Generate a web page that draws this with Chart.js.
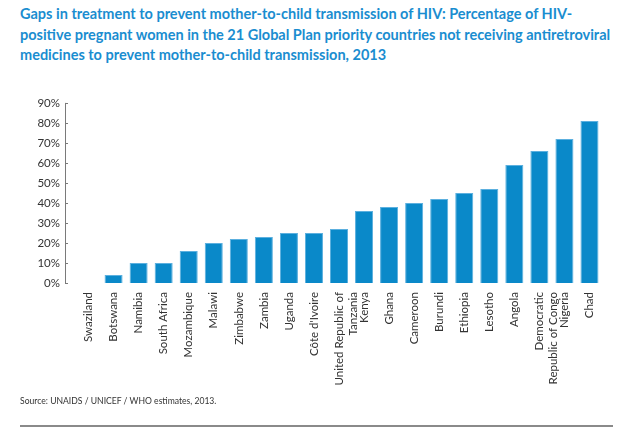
<!DOCTYPE html>
<html lang="en">
<head>
<meta charset="UTF-8">
<title>Gaps in treatment to prevent mother-to-child transmission of HIV</title>
<script src="https://cdn.jsdelivr.net/npm/chart.js"></script>
<style>
    body {
        margin: 0;
        width: 640px;
        height: 439px;
        background: #fff;
        position: relative;
        overflow: hidden;
        font-family: Lato, "Open Sans", sans-serif;
    }

    #title {
        position: absolute;
        left: 20px;
        top: 4px;
        color: #1a8dd0;
        font-weight: bold;
        font-size: 14.5px;
        line-height: 20.5px;
        white-space: nowrap;
    }

    #chart {
        position: absolute;
        left: 0;
        top: 80px;
    }

    #source {
        position: absolute;
        left: 20px;
        top: 396px;
        font-size: 8.6px;
        color: #333;
    }

    #rule {
        position: absolute;
        left: 20px;
        top: 425px;
        width: 593px;
        height: 2px;
        background: #8a8a8a;
    }
</style>
</head>
<body>
<div id="title">Gaps in treatment to prevent mother-to-child transmission of HIV: Percentage of HIV-<br>positive pregnant women in the 21 Global Plan priority countries not receiving antiretroviral<br>medicines to prevent mother-to-child transmission, 2013</div>
<canvas id="chart" width="640" height="320"></canvas>
<div id="source">Source: UNAIDS / UNICEF / WHO estimates, 2013.</div>
<div id="rule"></div>

<script>
    const countries = [
        "Swaziland", "Botswana", "Namibia", "South Africa", "Mozambique", "Malawi",
        "Zimbabwe", "Zambia", "Uganda", "Côte d'Ivoire", ["United Republic of", "Tanzania"],
        "Kenya", "Ghana", "Cameroon", "Burundi", "Ethiopia", "Lesotho", "Angola",
        ["Democratic", "Republic of Congo"], "Nigeria", "Chad"
    ];
    const notReceiving = [0, 4, 10, 10, 16, 20, 22, 23, 25, 25, 27, 36, 38, 40, 42, 45, 47, 59, 66, 72, 81];
    const yTicks = [0, 10, 20, 30, 40, 50, 60, 70, 80, 90];

    const tickFont = { family: "Lato, 'Open Sans', sans-serif", size: 11.5 };

    // y axis line sits a little left of the first bar, like the original
    const axisLine = {
        id: "axisLine",
        afterDraw(chart) {
            const ctx = chart.ctx;
            const y = chart.scales.y;
            const x = chart.chartArea.left - 11;
            ctx.save();
            ctx.strokeStyle = "#7a7a7a";
            ctx.lineWidth = 1;
            ctx.beginPath();
            ctx.moveTo(x + 0.5, y.getPixelForValue(90));
            ctx.lineTo(x + 0.5, y.getPixelForValue(0));
            yTicks.forEach(t => {
                const py = Math.round(y.getPixelForValue(t)) + 0.5;
                ctx.moveTo(x, py);
                ctx.lineTo(x + 3, py);
            });
            ctx.stroke();
            ctx.restore();
        }
    };

    new Chart(document.getElementById("chart"), {
        type: "bar",
        data: {
            labels: countries,
            datasets: [{
                data: notReceiving,
                backgroundColor: "#0a89c9",
                borderColor: "#5cb0df",
                borderWidth: 1,
                categoryPercentage: 1,
                barPercentage: 0.72
            }]
        },
        options: {
            responsive: false,
            animation: false,
            layout: { padding: { top: 17, right: 38, left: 0, bottom: 0 } },
            plugins: {
                legend: { display: false },
                tooltip: { enabled: false }
            },
            scales: {
                y: {
                    min: 0,
                    max: 90,
                    afterBuildTicks: s => { s.ticks = yTicks.map(v => ({ value: v })); },
                    ticks: {
                        callback: v => v + "%",
                        font: tickFont,
                        color: "#333",
                        padding: 16
                    },
                    grid: { display: false, drawTicks: false },
                    border: { display: false },
                    afterFit: s => { s.width = 76; }
                },
                x: {
                    ticks: {
                        autoSkip: false,
                        minRotation: 90,
                        maxRotation: 90,
                        padding: 9,
                        font: tickFont,
                        color: "#333"
                    },
                    grid: { display: false, drawTicks: false },
                    border: { display: false },
                    afterFit: s => { s.height = 117; }
                }
            }
        },
        plugins: [axisLine]
    });
</script>
</body>
</html>
